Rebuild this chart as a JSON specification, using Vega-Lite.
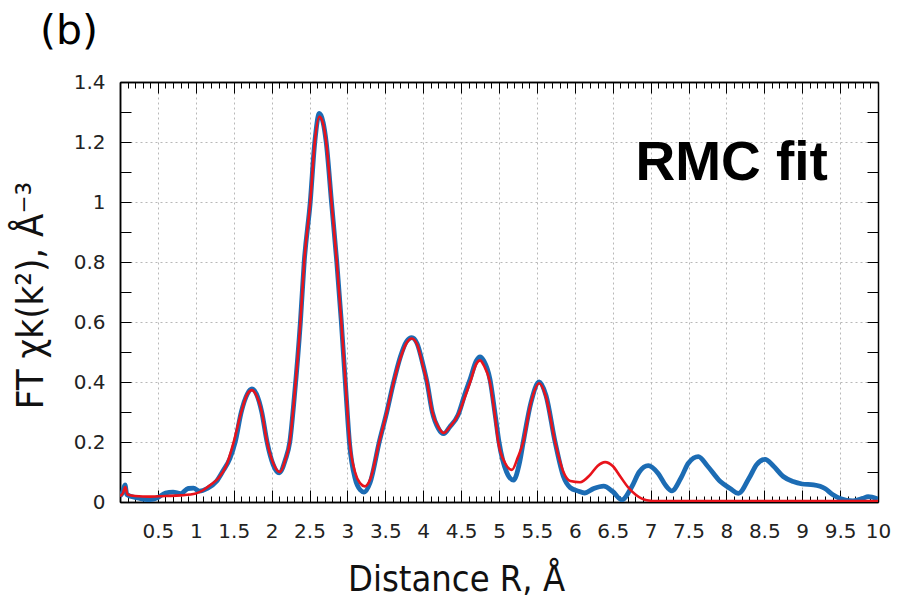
{
  "$schema": "https://vega.github.io/schema/vega-lite/v6.json",
  "width": 758,
  "height": 420,
  "autosize": {"type": "none"},
  "padding": {"left": 120, "top": 82, "right": 20, "bottom": 97},
  "background": "white",
  "config": {"view": {"stroke": null}},
  "title": {"text": "(b)", "anchor": "start", "frame": "group", "font": "DejaVu Sans", "fontSize": 41, "fontWeight": "normal", "color": "black", "dx": -80, "offset": -13, "baseline": "alphabetic"},
  "datasets": {
    "blue": [
      {"r":0,"v":0.02},{"r":0.03,"v":0.03},{"r":0.066,"v":0.057},{"r":0.09,"v":0.025},{"r":0.2,"v":0.015},{"r":0.3,"v":0.01},{"r":0.4,"v":0.008},{"r":0.5,"v":0.015},{"r":0.6,"v":0.03},{"r":0.7,"v":0.033},{"r":0.8,"v":0.028},{"r":0.9,"v":0.045},{"r":0.97,"v":0.046},{"r":1.05,"v":0.036},{"r":1.15,"v":0.045},{"r":1.27,"v":0.068},{"r":1.35,"v":0.1},{"r":1.45,"v":0.145},{"r":1.52,"v":0.2},{"r":1.6,"v":0.3},{"r":1.68,"v":0.36},{"r":1.74,"v":0.377},{"r":1.8,"v":0.36},{"r":1.87,"v":0.3},{"r":1.94,"v":0.2},{"r":2.02,"v":0.125},{"r":2.1,"v":0.097},{"r":2.18,"v":0.14},{"r":2.24,"v":0.2},{"r":2.3,"v":0.35},{"r":2.38,"v":0.6},{"r":2.43,"v":0.8},{"r":2.51,"v":1.0},{"r":2.57,"v":1.2},{"r":2.63,"v":1.295},{"r":2.68,"v":1.265},{"r":2.72,"v":1.2},{"r":2.79,"v":1.0},{"r":2.86,"v":0.8},{"r":2.92,"v":0.6},{"r":2.98,"v":0.37},{"r":3.03,"v":0.19},{"r":3.1,"v":0.08},{"r":3.17,"v":0.04},{"r":3.22,"v":0.033},{"r":3.3,"v":0.065},{"r":3.42,"v":0.2},{"r":3.52,"v":0.3},{"r":3.61,"v":0.4},{"r":3.7,"v":0.485},{"r":3.78,"v":0.535},{"r":3.85,"v":0.548},{"r":3.92,"v":0.528},{"r":4.0,"v":0.455},{"r":4.05,"v":0.4},{"r":4.12,"v":0.3},{"r":4.2,"v":0.245},{"r":4.27,"v":0.228},{"r":4.35,"v":0.25},{"r":4.46,"v":0.29},{"r":4.55,"v":0.36},{"r":4.62,"v":0.41},{"r":4.7,"v":0.47},{"r":4.75,"v":0.484},{"r":4.8,"v":0.47},{"r":4.88,"v":0.41},{"r":4.95,"v":0.29},{"r":5.0,"v":0.2},{"r":5.1,"v":0.1},{"r":5.19,"v":0.073},{"r":5.27,"v":0.13},{"r":5.32,"v":0.2},{"r":5.42,"v":0.33},{"r":5.53,"v":0.4},{"r":5.62,"v":0.355},{"r":5.74,"v":0.2},{"r":5.85,"v":0.085},{"r":5.94,"v":0.048},{"r":6.05,"v":0.036},{"r":6.13,"v":0.03},{"r":6.25,"v":0.045},{"r":6.38,"v":0.053},{"r":6.5,"v":0.035},{"r":6.62,"v":0.007},{"r":6.75,"v":0.05},{"r":6.85,"v":0.1},{"r":6.97,"v":0.121},{"r":7.1,"v":0.095},{"r":7.2,"v":0.055},{"r":7.28,"v":0.037},{"r":7.4,"v":0.08},{"r":7.5,"v":0.13},{"r":7.63,"v":0.151},{"r":7.75,"v":0.12},{"r":7.92,"v":0.068},{"r":8.05,"v":0.045},{"r":8.16,"v":0.029},{"r":8.3,"v":0.08},{"r":8.4,"v":0.125},{"r":8.51,"v":0.142},{"r":8.62,"v":0.12},{"r":8.75,"v":0.085},{"r":8.88,"v":0.068},{"r":9.0,"v":0.06},{"r":9.15,"v":0.057},{"r":9.3,"v":0.045},{"r":9.4,"v":0.025},{"r":9.5,"v":0.012},{"r":9.67,"v":0.004},{"r":9.8,"v":0.012},{"r":9.87,"v":0.018},{"r":10,"v":0.01}
    ],
    "red": [
      {"r":0,"v":0.02},{"r":0.04,"v":0.03},{"r":0.07,"v":0.05},{"r":0.1,"v":0.025},{"r":0.2,"v":0.02},{"r":0.4,"v":0.018},{"r":0.6,"v":0.02},{"r":0.8,"v":0.022},{"r":1.0,"v":0.028},{"r":1.1,"v":0.04},{"r":1.2,"v":0.058},{"r":1.3,"v":0.08},{"r":1.4,"v":0.12},{"r":1.5,"v":0.2},{"r":1.6,"v":0.3},{"r":1.68,"v":0.36},{"r":1.74,"v":0.373},{"r":1.8,"v":0.355},{"r":1.87,"v":0.3},{"r":1.94,"v":0.2},{"r":2.02,"v":0.13},{"r":2.11,"v":0.1},{"r":2.18,"v":0.14},{"r":2.24,"v":0.2},{"r":2.3,"v":0.35},{"r":2.38,"v":0.6},{"r":2.43,"v":0.8},{"r":2.51,"v":1.0},{"r":2.57,"v":1.2},{"r":2.63,"v":1.285},{"r":2.68,"v":1.26},{"r":2.72,"v":1.2},{"r":2.79,"v":1.0},{"r":2.86,"v":0.8},{"r":2.92,"v":0.6},{"r":2.98,"v":0.38},{"r":3.03,"v":0.2},{"r":3.1,"v":0.1},{"r":3.17,"v":0.062},{"r":3.23,"v":0.052},{"r":3.3,"v":0.075},{"r":3.42,"v":0.2},{"r":3.52,"v":0.3},{"r":3.61,"v":0.4},{"r":3.7,"v":0.48},{"r":3.78,"v":0.53},{"r":3.85,"v":0.545},{"r":3.92,"v":0.525},{"r":4.0,"v":0.45},{"r":4.05,"v":0.4},{"r":4.12,"v":0.3},{"r":4.2,"v":0.25},{"r":4.27,"v":0.23},{"r":4.35,"v":0.25},{"r":4.46,"v":0.29},{"r":4.55,"v":0.35},{"r":4.62,"v":0.4},{"r":4.7,"v":0.46},{"r":4.75,"v":0.472},{"r":4.8,"v":0.455},{"r":4.88,"v":0.4},{"r":4.95,"v":0.28},{"r":4.99,"v":0.2},{"r":5.08,"v":0.13},{"r":5.17,"v":0.107},{"r":5.25,"v":0.15},{"r":5.32,"v":0.2},{"r":5.42,"v":0.33},{"r":5.53,"v":0.396},{"r":5.62,"v":0.35},{"r":5.74,"v":0.2},{"r":5.85,"v":0.1},{"r":5.94,"v":0.07},{"r":6.07,"v":0.066},{"r":6.2,"v":0.09},{"r":6.3,"v":0.12},{"r":6.4,"v":0.133},{"r":6.5,"v":0.12},{"r":6.6,"v":0.085},{"r":6.7,"v":0.05},{"r":6.8,"v":0.025},{"r":6.95,"v":0.006},{"r":7.1,"v":0.003},{"r":8,"v":0.003},{"r":9,"v":0.003},{"r":10,"v":0.003}
    ],
    "label": [{"r": 8.07, "v": 1.073, "text": "RMC fit"}]
  },
  "resolve": {"axis": {"x": "independent", "y": "independent"}},
  "layer": [
    {
      "data": {"name": "blue"},
      "mark": {"type": "line", "color": "#1c6cb4", "strokeWidth": 4.8, "interpolate": "monotone", "clip": true},
      "encoding": {
        "x": {"field": "r", "type": "quantitative", "scale": {"domain": [0, 10], "nice": false, "zero": false},
          "axis": {"orient": "bottom", "values": [0.5,1,1.5,2,2.5,3,3.5,4,4.5,5,5.5,6,6.5,7,7.5,8,8.5,9,9.5,10], "format": "~g",
            "grid": true, "gridDash": [2, 3], "gridColor": "#b8b8b8", "gridWidth": 1,
            "tickSize": -12, "tickColor": "black", "tickWidth": 1,
            "domainColor": "black", "domainWidth": 1.5,
            "labelFont": "DejaVu Sans", "labelFontSize": 20, "labelColor": "#222", "labelPadding": 31, "labelBaseline": "top", "labelFlush": false, "labelOverlap": false,
            "title": "Distance R, Å", "titleFont": "DejaVu Sans Condensed", "titleFontSize": 36, "titleFontWeight": "normal", "titleColor": "#111",
            "titleX": 336, "titleY": 88, "titleBaseline": "alphabetic", "titleAlign": "center"}},
        "y": {"field": "v", "type": "quantitative", "scale": {"domain": [0, 1.4], "nice": false},
          "axis": {"orient": "left", "values": [0,0.2,0.4,0.6,0.8,1,1.2,1.4], "format": "~g",
            "grid": true, "gridDash": [2, 3], "gridColor": "#b8b8b8", "gridWidth": 1,
            "tickSize": -11, "tickColor": "black", "tickWidth": 1,
            "domainColor": "black", "domainWidth": 1.5,
            "labelFont": "DejaVu Sans", "labelFontSize": 20, "labelColor": "#222", "labelPadding": 26, "labelFlush": false, "labelOverlap": false,
            "title": "FT χk(k²), Å⁻³", "titleFont": "DejaVu Sans Condensed", "titleFontSize": 38, "titleFontWeight": "normal", "titleColor": "#111",
            "titleX": -78, "titleY": 213, "titleAngle": -90, "titleBaseline": "alphabetic", "titleAlign": "center"}}
      }
    },
    {
      "data": {"name": "red"},
      "mark": {"type": "line", "color": "#e8131b", "strokeWidth": 2.6, "interpolate": "monotone", "clip": true},
      "encoding": {
        "x": {"field": "r", "type": "quantitative", "scale": {"domain": [0, 10], "nice": false, "zero": false},
          "axis": {"orient": "top", "values": [0.5,1,1.5,2,2.5,3,3.5,4,4.5,5,5.5,6,6.5,7,7.5,8,8.5,9,9.5,10],
            "grid": false, "labels": false, "title": null,
            "tickSize": -11, "tickColor": "black", "tickWidth": 1,
            "domainColor": "black", "domainWidth": 1.5}},
        "y": {"field": "v", "type": "quantitative", "scale": {"domain": [0, 1.4], "nice": false},
          "axis": {"orient": "right", "values": [0.1,0.2,0.3,0.4,0.5,0.6,0.7,0.8,0.9,1,1.1,1.2,1.3],
            "grid": false, "labels": false, "title": null,
            "tickSize": -11, "tickColor": "black", "tickWidth": 1,
            "domainColor": "black", "domainWidth": 1.5}}
      }
    },
    {
      "data": {"name": "label"},
      "mark": {"type": "text", "font": "Liberation Sans", "fontWeight": "bold", "fontSize": 55, "color": "black", "align": "center", "baseline": "alphabetic"},
      "encoding": {
        "text": {"field": "text"},
        "x": {"field": "r", "type": "quantitative", "scale": {"domain": [0, 10], "nice": false, "zero": false},
          "axis": {"orient": "bottom", "values": [0.1,0.2,0.3,0.4,0.6,0.7,0.8,0.9,1.1,1.2,1.3,1.4,1.6,1.7,1.8,1.9,2.1,2.2,2.3,2.4,2.6,2.7,2.8,2.9,3.1,3.2,3.3,3.4,3.6,3.7,3.8,3.9,4.1,4.2,4.3,4.4,4.6,4.7,4.8,4.9,5.1,5.2,5.3,5.4,5.6,5.7,5.8,5.9,6.1,6.2,6.3,6.4,6.6,6.7,6.8,6.9,7.1,7.2,7.3,7.4,7.6,7.7,7.8,7.9,8.1,8.2,8.3,8.4,8.6,8.7,8.8,8.9,9.1,9.2,9.3,9.4,9.6,9.7,9.8,9.9],
            "grid": false, "labels": false, "title": null,
            "tickSize": -6, "tickColor": "black", "tickWidth": 1,
            "domainColor": "black", "domainWidth": 1.5}},
        "y": {"field": "v", "type": "quantitative", "scale": {"domain": [0, 1.4], "nice": false},
          "axis": {"orient": "left", "values": [0.1,0.3,0.5,0.7,0.9,1.1,1.3],
            "grid": false, "labels": false, "title": null,
            "tickSize": -11, "tickColor": "black", "tickWidth": 1,
            "domainColor": "black", "domainWidth": 1.5}}
      }
    },
    {
      "data": {"name": "red"},
      "mark": {"type": "line", "opacity": 0, "clip": true},
      "encoding": {
        "x": {"field": "r", "type": "quantitative", "scale": {"domain": [0, 10], "nice": false, "zero": false},
          "axis": {"orient": "top", "values": [0.1,0.2,0.3,0.4,0.6,0.7,0.8,0.9,1.1,1.2,1.3,1.4,1.6,1.7,1.8,1.9,2.1,2.2,2.3,2.4,2.6,2.7,2.8,2.9,3.1,3.2,3.3,3.4,3.6,3.7,3.8,3.9,4.1,4.2,4.3,4.4,4.6,4.7,4.8,4.9,5.1,5.2,5.3,5.4,5.6,5.7,5.8,5.9,6.1,6.2,6.3,6.4,6.6,6.7,6.8,6.9,7.1,7.2,7.3,7.4,7.6,7.7,7.8,7.9,8.1,8.2,8.3,8.4,8.6,8.7,8.8,8.9,9.1,9.2,9.3,9.4,9.6,9.7,9.8,9.9],
            "grid": false, "labels": false, "title": null,
            "tickSize": -6, "tickColor": "black", "tickWidth": 1,
            "domainColor": "black", "domainWidth": 1.5}},
        "y": {"field": "v", "type": "quantitative", "scale": {"domain": [0, 1.4], "nice": false}, "axis": null}
      }
    }
  ]
}
